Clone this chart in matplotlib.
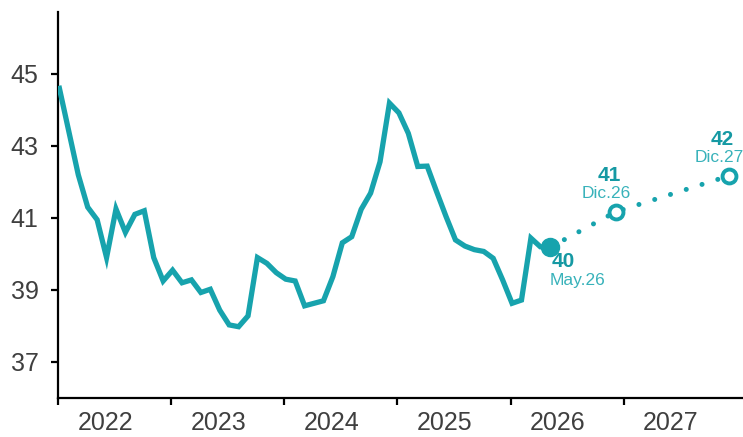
import matplotlib
matplotlib.use("Agg")
import matplotlib.pyplot as plt
import numpy as np

plt.rcParams['font.family'] = ['Liberation Sans', 'DejaVu Sans']

# Monthly index values, Jan 2022 .. May 2026
values = [44.6, 43.4, 42.2, 41.3, 40.95, 39.9, 41.25, 40.6, 41.1, 41.2,
          39.9, 39.25, 39.55, 39.2, 39.28, 38.93, 39.02, 38.44, 38.03, 37.98,
          38.28, 39.9, 39.74, 39.48, 39.3, 39.25, 38.56, 38.63, 38.7, 39.37,
          40.31, 40.48, 41.24, 41.69, 42.56, 44.19, 43.92, 43.35, 42.43, 42.44,
          41.73, 41.04, 40.39, 40.22, 40.12, 40.07, 39.88, 39.28, 38.63, 38.72,
          40.44, 40.2, 40.18]
start_year = 2022

# Forecast points (year, month, value, big label, small label)
fc_year = [2026, 2026, 2027]
fc_month = [5, 12, 12]
fc_value = [40.18, 41.17, 42.17]
fc_big = ["40", "41", "42"]
fc_small = ["May.26", "Dic.26", "Dic.27"]

years = [2022, 2023, 2024, 2025, 2026, 2027]
yticks = [37, 39, 41, 43, 45]

teal = "#17A3AD"
teal_dark = "#1599A3"
teal_light = "#38B2BA"
txt = "#3F3F3F"

def mx(y, m):
    return (y - start_year) * 12 + (m - 1) + 0.15

x_hist = np.arange(len(values)) + 0.15
x_fc = [mx(y, m) for y, m in zip(fc_year, fc_month)]

fig = plt.figure(figsize=(7.43, 4.37), dpi=100)
ax = fig.add_axes([58/743, 1 - 398/437, (743 - 58)/743, (398 - 12)/437])

ax.plot(x_hist, values, color=teal, lw=3.8, solid_joinstyle='miter', zorder=3)
ax.plot(x_fc, fc_value, color=teal, lw=3.6, linestyle=(0, (0.01, 3.3)),
        dash_capstyle='round', zorder=2)
ax.plot(x_fc[0], fc_value[0], 'o', color=teal, ms=13, zorder=4)
ax.plot(x_fc[1:], fc_value[1:], 'o', mfc='white', mec=teal, ms=10, mew=2.8,
        zorder=4, linestyle='none')

# labels
ax.annotate(fc_big[0], (x_fc[0], fc_value[0]), xytext=(1, -10),
            textcoords='offset points', ha='left', va='center',
            fontsize=15, fontweight='bold', color=teal_dark)
ax.annotate(fc_small[0], (x_fc[0], fc_value[0]), xytext=(0, -24),
            textcoords='offset points', ha='left', va='center',
            fontsize=12.5, color=teal_light)
for xv, yv, b, s in zip(x_fc[1:], fc_value[1:], fc_big[1:], fc_small[1:]):
    ax.annotate(b, (xv, yv), xytext=(-5, 26), textcoords='offset points',
                ha='center', va='center', fontsize=15, fontweight='bold',
                color=teal_dark)
    ax.annotate(s, (xv, yv), xytext=(-7, 13), textcoords='offset points',
                ha='center', va='center', fontsize=12.5, color=teal_light)

ax.set_xlim(0, (743 - 58) / 9.43)
ax.set_ylim(36.0, 46.72)

ax.set_xticks([(y - start_year) * 12 for y in years])
ax.set_xticklabels([])
ax.set_xticks([(y - start_year) * 12 + 5 for y in years], minor=True)
ax.set_xticklabels([str(y) for y in years], minor=True)
ax.set_yticks(yticks)
ax.set_yticklabels([str(v) for v in yticks])

for s in ['top', 'right']:
    ax.spines[s].set_visible(False)
for s in ['left', 'bottom']:
    ax.spines[s].set_linewidth(1.6)
    ax.spines[s].set_color('black')

ax.tick_params(axis='x', which='major', length=5, width=1.6, direction='out')
ax.tick_params(axis='x', which='minor', length=0, pad=9, labelsize=18,
               labelcolor=txt)
ax.tick_params(axis='y', which='major', length=5, width=1.6, direction='out',
               pad=9, labelsize=18, labelcolor=txt)

fig.savefig("out.png", dpi=100)
